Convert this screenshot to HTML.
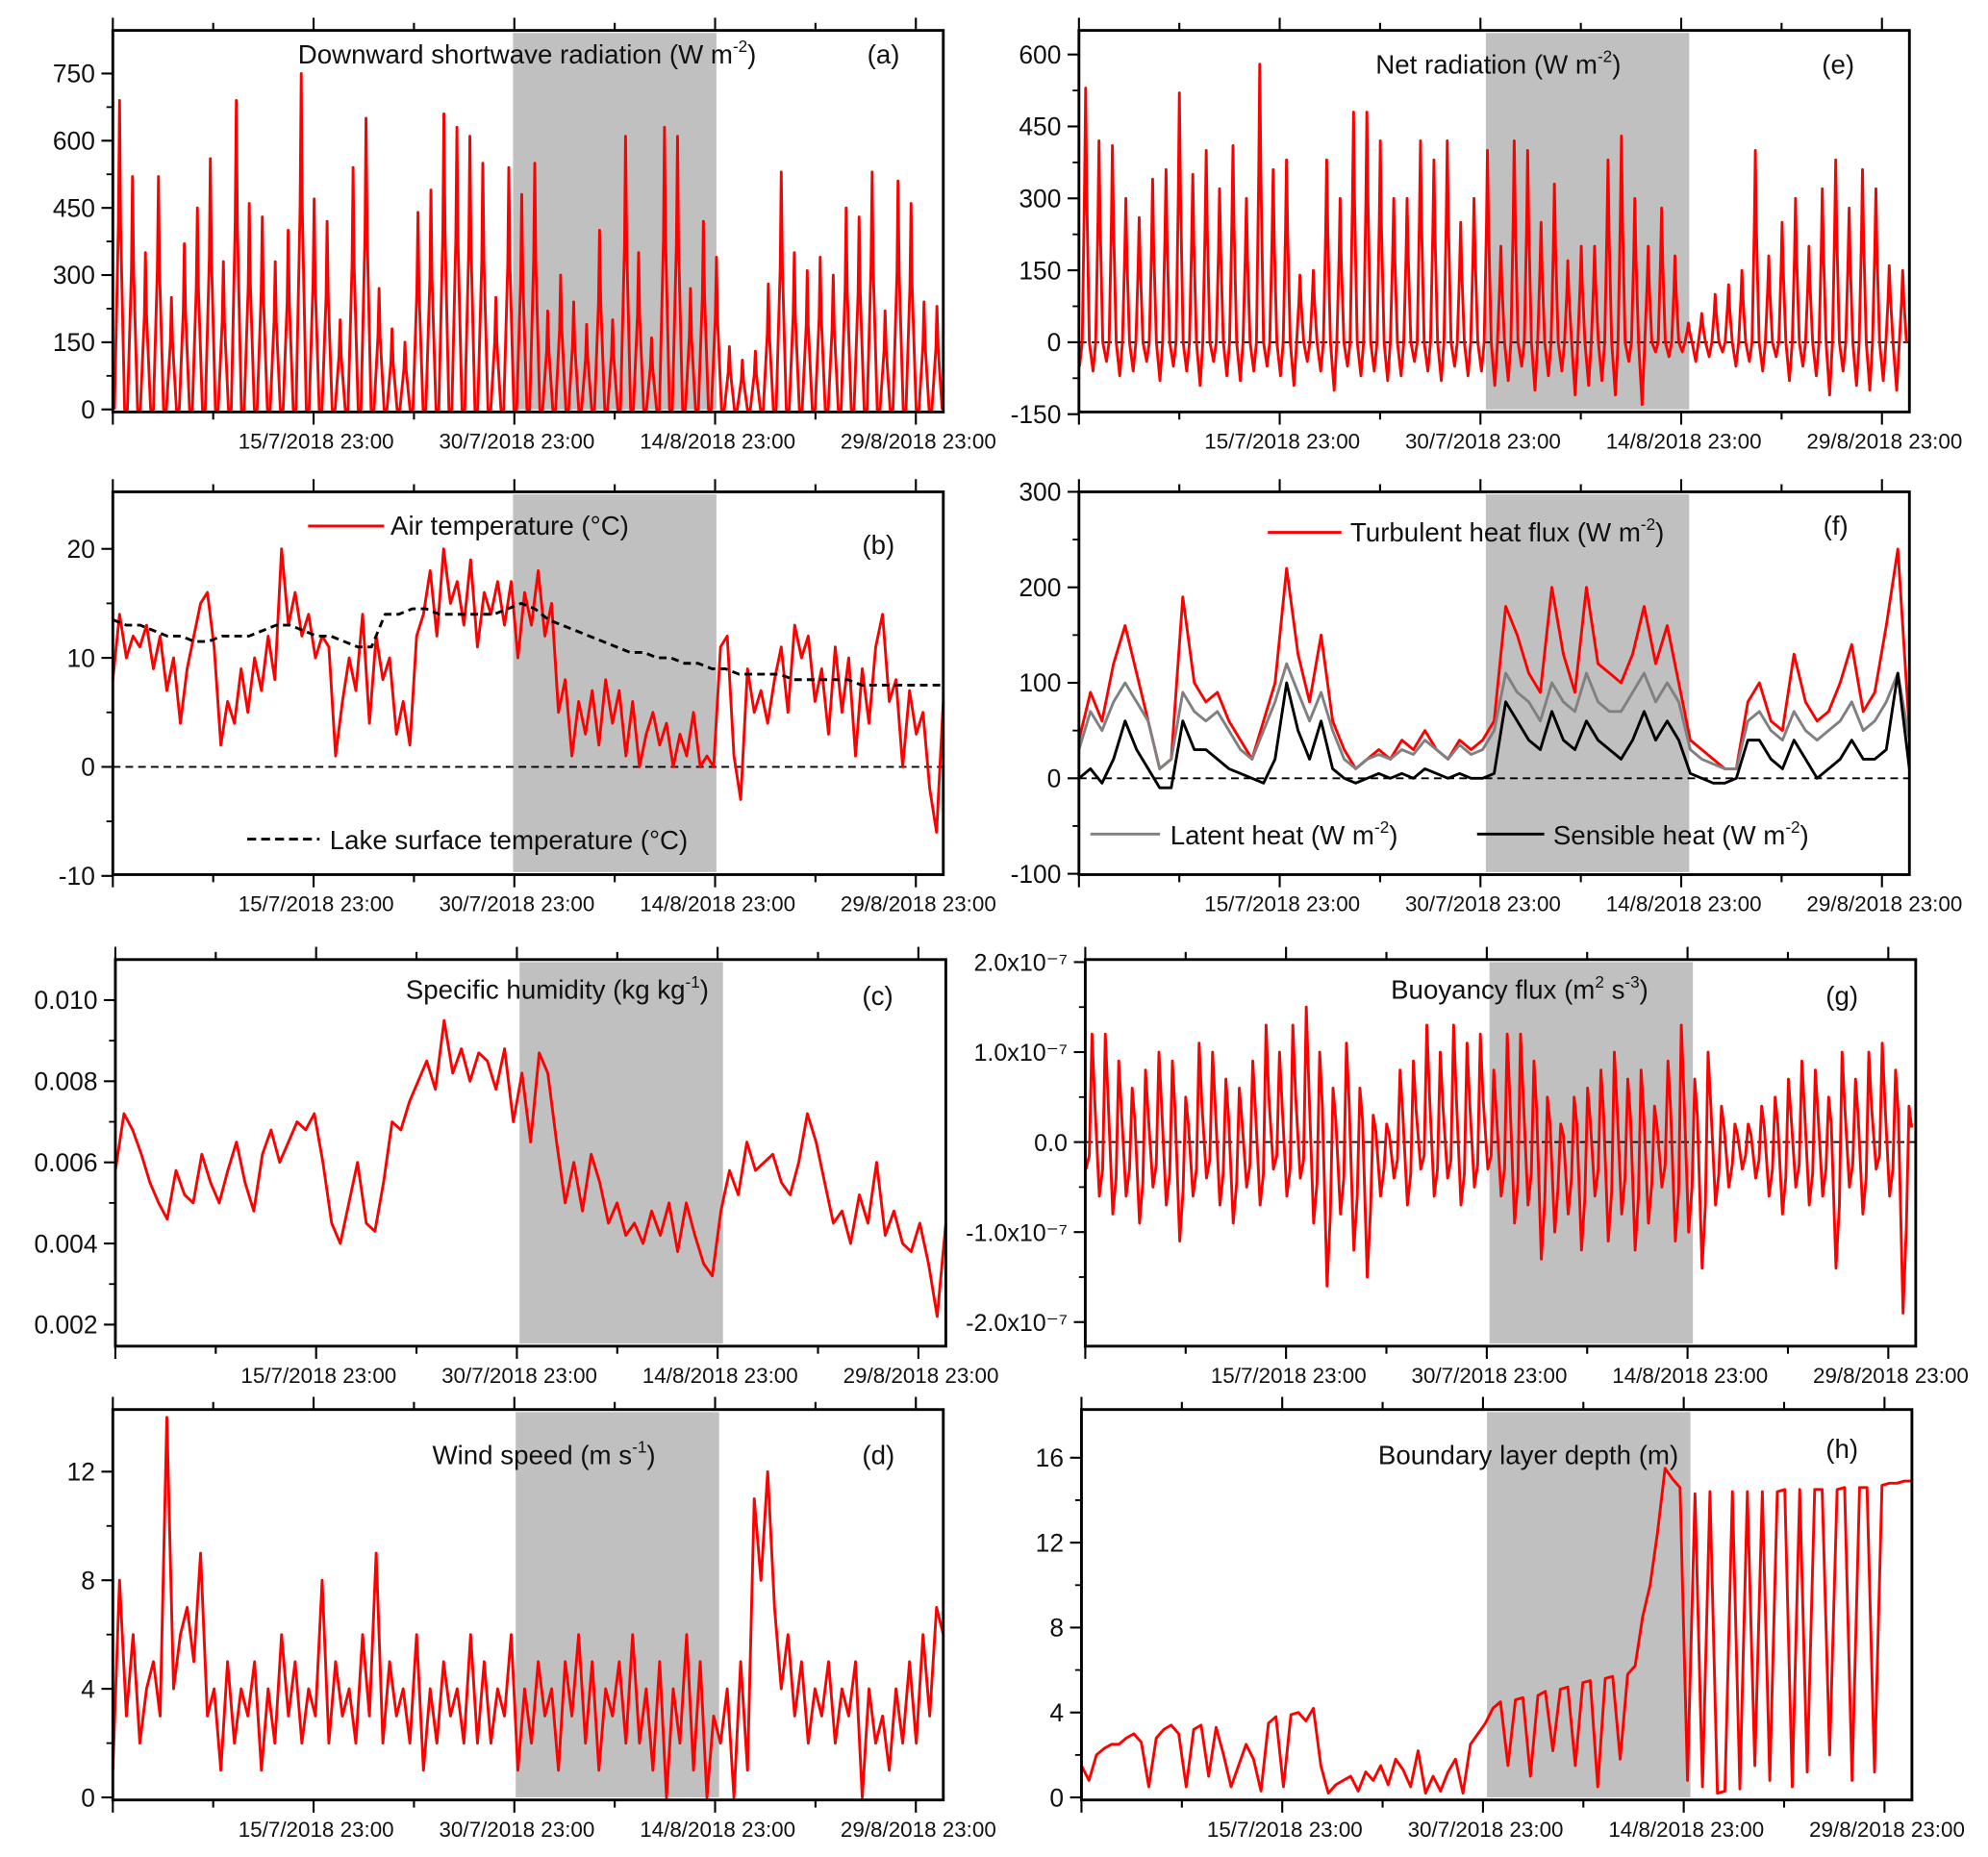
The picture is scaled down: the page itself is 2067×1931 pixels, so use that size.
<!DOCTYPE html>
<html><head><meta charset="utf-8"><style>
html,body{margin:0;padding:0;background:#fff;}
svg{display:block;}
text{font-family:"Liberation Sans",Arial,sans-serif;fill:#111;}
</style></head><body>
<svg id="chart" xmlns="http://www.w3.org/2000/svg" width="2067" height="1931" viewBox="0 0 1568 1465" preserveAspectRatio="none"></svg>
<script>
// ---- data ----
const xTickLabels = ["15/7/2018  23:00","30/7/2018  23:00","14/8/2018  23:00","29/8/2018  23:00"];
const xTickDays = [15,30,45,60];
const swPeaks = [690,520,350,520,250,370,450,560,330,690,460,430,330,400,750,470,420,200,540,650,270,180,150,440,490,660,630,610,550,250,540,480,550,220,300,240,190,400,200,610,350,160,630,610,270,420,340,140,110,130,280,530,350,310,340,300,450,430,530,220,510,460,240,230];
const netPeaks = [530,420,410,300,260,340,360,520,350,400,320,410,300,580,360,380,140,150,380,300,480,480,420,300,300,420,380,420,250,300,400,200,420,400,250,330,170,200,200,380,430,300,200,280,180,40,60,100,120,150,400,180,250,300,200,320,380,280,360,320,160,150];
const netMins = [-50,-60,-40,-70,-60,-40,-80,-50,-60,-90,-40,-70,-80,-60,-50,-70,-90,-40,-60,-100,-50,-70,-60,-80,-70,-40,-60,-80,-50,-70,-60,-90,-80,-50,-100,-70,-60,-110,-90,-80,-110,-40,-130,-20,-30,-20,-40,-30,-20,-50,-40,-60,-30,-80,-50,-70,-110,-60,-90,-100,-80,-100];
const airTemp = [8,14,10,12,11,13,9,12,7,10,4,9,12,15,16,11,2,6,4,9,5,10,7,12,8,20,13,16,12,14,10,12,11,1,6,10,7,14,4,12,8,10,3,6,2,12,14,18,12,20,15,17,13,19,11,16,14,17,13,17,10,16,13,18,12,15,5,8,1,6,3,7,2,8,4,7,1,6,0,3,5,2,4,0,3,1,5,0,1,0,11,12,1,-3,9,5,7,4,8,11,5,13,10,12,6,9,3,11,5,10,1,9,4,11,14,6,8,0,7,3,5,-2,-6,6];
const lakeTemp = [13.5,13,13,12.5,12,12,11.5,11.5,12,12,12,12.5,13,13,12.5,12,12,11.5,11,11,14,14,14.5,14.5,14,14,14,14,14,14.5,15,14.5,13.5,13,12.5,12,11.5,11,10.5,10.5,10,10,9.5,9.5,9,9,8.5,8.5,8.5,8.5,8,8,8,8,8,7.5,7.5,7.5,7.5,7.5,7.5,7.5];
const turbFlux = [40,90,60,120,160,110,60,10,20,190,100,80,90,60,40,20,60,100,220,130,80,150,60,30,10,20,30,20,40,30,50,30,20,40,30,40,60,180,150,110,90,200,130,90,200,120,110,100,130,180,120,160,100,40,30,20,10,10,80,100,60,50,130,80,60,70,100,140,70,90,160,240,50];
const latentFlux = [30,70,50,80,100,80,60,10,20,90,70,60,70,50,30,20,50,80,120,90,60,90,50,20,10,20,25,20,30,25,40,30,20,35,25,30,50,110,90,80,60,100,80,70,110,80,70,70,90,110,80,100,80,30,20,15,10,10,60,70,50,40,70,50,40,50,60,80,50,60,80,110,40];
const sensibleFlux = [0,10,-5,20,60,30,10,-10,-10,60,30,30,20,10,5,0,-5,20,100,50,20,60,10,0,-5,0,5,0,5,0,10,5,0,5,0,0,5,80,60,40,30,70,40,30,60,40,30,20,40,70,40,60,40,5,0,-5,-5,0,40,40,20,10,40,20,0,10,20,40,20,20,30,110,10];
const specHum = [0.0058,0.0072,0.0068,0.0062,0.0055,0.0050,0.0046,0.0058,0.0052,0.0050,0.0062,0.0055,0.0050,0.0058,0.0065,0.0055,0.0048,0.0062,0.0068,0.0060,0.0065,0.0070,0.0068,0.0072,0.0060,0.0045,0.0040,0.0050,0.0060,0.0045,0.0043,0.0055,0.0070,0.0068,0.0075,0.0080,0.0085,0.0078,0.0095,0.0082,0.0088,0.0080,0.0087,0.0085,0.0078,0.0088,0.0070,0.0082,0.0065,0.0087,0.0082,0.0065,0.0050,0.0060,0.0048,0.0062,0.0055,0.0045,0.0050,0.0042,0.0045,0.0040,0.0048,0.0042,0.0050,0.0038,0.0050,0.0042,0.0035,0.0032,0.0048,0.0058,0.0052,0.0065,0.0058,0.0060,0.0062,0.0055,0.0052,0.0060,0.0072,0.0065,0.0055,0.0045,0.0048,0.0040,0.0052,0.0045,0.0060,0.0042,0.0048,0.0040,0.0038,0.0045,0.0035,0.0022,0.0045];
const buoyMax = [1.2,1.2,0.9,0.6,0.8,1.0,0.9,0.5,1.1,1.0,0.7,0.6,0.9,1.3,1.0,1.3,1.5,1.0,0.6,1.1,0.6,0.3,0.2,0.8,0.9,1.3,1.0,1.3,1.1,1.2,0.8,1.2,1.2,0.9,0.5,0.2,0.5,0.6,0.8,1.0,0.7,0.8,0.4,0.9,1.3,0.7,1.0,0.4,0.2,0.2,0.4,0.5,0.7,0.9,0.8,0.5,1.0,0.7,1.0,1.1,0.8,0.4];
const buoyMin = [-0.3,-0.6,-0.8,-0.6,-0.9,-0.5,-0.7,-1.1,-0.6,-0.4,-0.7,-0.9,-0.5,-0.7,-0.3,-0.6,-0.4,-0.9,-1.6,-0.8,-1.2,-1.5,-0.6,-0.4,-0.7,-0.3,-0.6,-0.4,-0.7,-0.5,-0.3,-0.6,-0.9,-0.7,-1.3,-1.0,-0.8,-1.2,-0.6,-1.1,-0.8,-1.2,-0.9,-0.5,-1.1,-1.0,-1.4,-0.7,-0.5,-0.3,-0.4,-0.6,-0.8,-0.5,-0.7,-0.6,-1.4,-0.5,-0.8,-0.3,-0.6,-1.9];
const windSpeed = [1,8,3,6,2,4,5,3,14,4,6,7,5,9,3,4,1,5,2,4,3,5,1,4,2,6,3,5,2,4,3,8,2,5,3,4,2,6,3,9,2,5,3,4,2,6,1,4,2,5,3,4,2,6,2,5,2,4,3,6,1,4,2,5,3,4,1,5,3,6,2,5,1,4,3,5,2,6,2,4,1,5,0,4,2,6,1,5,0,3,2,4,0,5,1,11,8,12,7,4,6,3,5,2,4,3,5,2,4,3,5,0,4,2,3,1,4,2,5,2,6,3,7,6];
const blDepth = [1.5,0.8,2.0,2.3,2.5,2.5,2.8,3.0,2.6,0.5,2.8,3.2,3.4,3.0,0.5,3.2,3.4,1.0,3.3,2.0,0.5,1.5,2.5,1.8,0.3,3.5,3.8,0.5,3.9,4.0,3.6,4.2,1.5,0.2,0.6,0.8,1.0,0.3,1.2,0.8,1.5,0.6,1.8,1.3,0.5,2.2,0.2,1.0,0.3,1.2,1.8,0.2,2.5,3.0,3.5,4.2,4.5,1.5,4.6,4.7,1.0,4.8,5.0,2.2,5.1,5.2,1.5,5.4,5.5,0.5,5.6,5.7,1.8,5.8,6.2,8.5,10,12.5,15.5,15,14.6,0.8,14.3,0.5,14.4,0.2,0.3,14.4,0.4,14.4,1.5,14.4,0.8,14.4,14.5,0.5,14.5,1.2,14.5,14.5,2.0,14.5,14.6,0.8,14.6,14.6,1.2,14.7,14.8,14.8,14.9,14.9];

const svg = document.getElementById('chart');
const NS = "http://www.w3.org/2000/svg";
const SPAN = 62.05;
function mk(tag, attrs, parent){const e=document.createElementNS(NS,tag);for(const k in attrs)e.setAttribute(k,attrs[k]);(parent||svg).appendChild(e);return e;}

function panel(p){
  const g = mk('g',{});
  
  
  const xs = d => p.x0 + (d/SPAN)*(p.x1-p.x0);
  const ys = v => p.y0v + (v - p.v0)*(p.y1v - p.y0v)/(p.v1 - p.v0);
  p.xs = xs; p.ys = ys;
  const sh = mk('rect',{x:xs(p.shade[0]),y:p.top+2,width:xs(p.shade[1])-xs(p.shade[0]),height:p.bot-p.top-4,fill:'#c0c0c0'},g);
  
  
  p.g = g;
  return p;
}
function finish(p){
  const g=p.g, xs=p.xs, ys=p.ys;
  const fr = mk('rect',{x:p.x0,y:p.top,width:p.x1-p.x0,height:p.bot-p.top,fill:'none',stroke:'#000','stroke-width':2.2},g);
  
  
  for(let d=0; d<=SPAN; d+=7.5){
    const maj = Math.abs(d/15-Math.round(d/15))<1e-6;
    const L = maj?10:6;
    mk('line',{x1:xs(d),x2:xs(d),y1:p.bot,y2:p.bot+L,stroke:'#000','stroke-width':1.6},g);
    mk('line',{x1:xs(d),x2:xs(d),y1:p.top,y2:p.top-L,stroke:'#000','stroke-width':1.6},g);
  }
  xTickDays.forEach((d,i)=>{
    const t = mk('text',{x:xs(d)+2,y:p.bot+29,'text-anchor':'middle','font-size':17},g);
    t.textContent = xTickLabels[i];
    
    
  });
  p.yticks.forEach((v,i)=>{
    const y=ys(v);
    mk('line',{x1:p.x0-9,x2:p.x0,y1:y,y2:y,stroke:'#000','stroke-width':1.6},g);
    const t = mk('text',{x:p.x0-14,y:y+7,'text-anchor':'end','font-size':p.yfs||20},g);
    t.textContent = p.ylabels[i];
    
    
    if(i<p.yticks.length-1){const ym=ys((v+p.yticks[i+1])/2);mk('line',{x1:p.x0-5,x2:p.x0,y1:ym,y2:ym,stroke:'#000','stroke-width':1.4},g);}
  });
}
function line(p, pts, color, name, width, dash){
  const pl = mk('polyline',{points:pts.map(q=>p.xs(q[0]).toFixed(1)+','+p.ys(q[1]).toFixed(1)).join(' '),fill:'none',stroke:color,'stroke-width':width||2.2,'stroke-dasharray':dash||'none','stroke-linejoin':'round'},p.g);
  
  
}
function even(arr){return arr.map((v,i)=>[i*SPAN/(arr.length-1),v]);}
function zeroLine(p){const l=mk('line',{x1:p.x0,x2:p.x1,y1:p.ys(0),y2:p.ys(0),stroke:'#000','stroke-width':1.4,'stroke-dasharray':'6,4'},p.g);
  
  }
function label(p, x, y, html, size, name){
  const t = mk('text',{x:x,y:y,'font-size':size||21},p.g);
  t.innerHTML = html;
  
  
}
function legendLine(p,x1,x2,y,color,dash,name){const l=mk('line',{x1:x1,x2:x2,y1:y,y2:y,stroke:color,'stroke-width':2.2,'stroke-dasharray':dash||'none'},p.g);
  
  }
const sup = s => `<tspan dy="-9" font-size="13">${s}</tspan><tspan dy="9">`;

// (a)
let A = panel({id:'a',x0:89,x1:744,top:24,bot:325,v0:0,v1:750,y0v:323,y1v:58,shade:[29.9,45.1]});
let ap=[]; swPeaks.forEach((v,i)=>{const d=i*SPAN/swPeaks.length; ap.push([d+0.12,0],[d+0.42,v*0.6],[d+0.5,v],[d+0.58,v*0.6],[d+0.88,0]);});
line(A, ap.filter(q=>q[0]<=SPAN), '#f00', 'shortwave-series');
finish(Object.assign(A,{yticks:[0,150,300,450,600,750],ylabels:['0','150','300','450','600','750']}));
label(A,235,50,'Downward shortwave radiation (W m'+sup('-2')+')</tspan>',21,'title-shortwave');
label(A,684,50,'(a)',21,'panel-letter-a');

// (e)
let E = panel({id:'e',x0:851,x1:1506,top:24,bot:325,v0:0,v1:600,y0v:270,y1v:43,shade:[30.4,45.6]});
zeroLine(E);
let ep=[]; netPeaks.forEach((v,i)=>{const d=i*SPAN/netPeaks.length; ep.push([d+0.05,netMins[i]],[d+0.25,0],[d+0.42,v*0.6],[d+0.5,v],[d+0.58,v*0.6],[d+0.78,0]);});
line(E, ep.filter(q=>q[0]<=SPAN), '#f00', 'net-radiation-series');
finish(Object.assign(E,{yticks:[-150,0,150,300,450,600],ylabels:['-150','0','150','300','450','600']}));
label(E,1085,58,'Net radiation (W m'+sup('-2')+')</tspan>',21,'title-net-radiation');
label(E,1437,58,'(e)',21,'panel-letter-e');

// (b)
let B = panel({id:'b',x0:89,x1:744,top:388,bot:690,v0:0,v1:20,y0v:605,y1v:433,shade:[29.9,45.1]});
zeroLine(B);
line(B, even(airTemp), '#f00', 'air-temperature-series');
line(B, even(lakeTemp), '#000', 'lake-temperature-series', 2.2, '6,4');
finish(Object.assign(B,{yticks:[-10,0,10,20],ylabels:['-10','0','10','20']}));
legendLine(B,243,303,415,'#f00','', 'legend-air-line');
label(B,308,422,'Air temperature (°C)',21,'legend-air-temperature');
legendLine(B,195,252,662,'#000','7,4','legend-lake-line');
label(B,260,670,'Lake surface temperature (°C)',21,'legend-lake-temperature');
label(B,680,437,'(b)',21,'panel-letter-b');

// (f)
let F = panel({id:'f',x0:851,x1:1506,top:388,bot:690,v0:0,v1:300,y0v:614,y1v:388,shade:[30.4,45.6]});
zeroLine(F);
line(F, even(turbFlux), '#f00', 'turbulent-flux-series');
line(F, even(latentFlux), '#808080', 'latent-heat-series');
line(F, even(sensibleFlux), '#000', 'sensible-heat-series');
finish(Object.assign(F,{yticks:[-100,0,100,200,300],ylabels:['-100','0','100','200','300']}));
legendLine(F,1000,1058,420,'#f00','','legend-turbulent-line');
label(F,1065,427,'Turbulent heat flux (W m'+sup('-2')+')</tspan>',21,'legend-turbulent');
legendLine(F,860,915,658,'#808080','','legend-latent-line');
label(F,923,666,'Latent heat  (W m'+sup('-2')+')</tspan>',21,'legend-latent');
legendLine(F,1165,1218,658,'#000','','legend-sensible-line');
label(F,1225,666,'Sensible heat (W m'+sup('-2')+')</tspan>',21,'legend-sensible');
label(F,1438,422,'(f)',21,'panel-letter-f');

// (c)
let C = panel({id:'c',x0:91,x1:746,top:757,bot:1062,v0:0.002,v1:0.010,y0v:1045,y1v:789,shade:[30.2,45.4]});
line(C, even(specHum), '#f00', 'specific-humidity-series');
finish(Object.assign(C,{yticks:[0.002,0.004,0.006,0.008,0.010],ylabels:['0.002','0.004','0.006','0.008','0.010']}));
label(C,320,788,'Specific humidity (kg kg'+sup('-1')+')</tspan>',21,'title-specific-humidity');
label(C,680,793,'(c)',21,'panel-letter-c');

// (g)
let G = panel({id:'g',x0:856,x1:1511,top:757,bot:1062,v0:0,v1:2,y0v:901,y1v:759,shade:[30.2,45.4]});
zeroLine(G);
let gp=[]; buoyMax.forEach((v,i)=>{const d=i*SPAN/buoyMax.length; gp.push([d+0.05,buoyMin[i]],[d+0.3,buoyMin[i]*0.5],[d+0.5,v],[d+0.7,v*0.4]);});
line(G, gp.filter(q=>q[0]<=SPAN), '#f00', 'buoyancy-flux-series');
finish(Object.assign(G,{yfs:19,yticks:[-2,-1,0,1,2],ylabels:['-2.0x10⁻⁷','-1.0x10⁻⁷','0.0','1.0x10⁻⁷','2.0x10⁻⁷']}));
label(G,1097,788,'Buoyancy flux (m'+sup('2')+' s'+sup('-3')+')</tspan></tspan>',21,'title-buoyancy-flux');
label(G,1440,793,'(g)',21,'panel-letter-g');

// (d)
let D = panel({id:'d',x0:89,x1:744,top:1112,bot:1420,v0:0,v1:12,y0v:1418,y1v:1161,shade:[30.1,45.3]});
line(D, even(windSpeed), '#f00', 'wind-speed-series');
finish(Object.assign(D,{yticks:[0,4,8,12],ylabels:['0','4','8','12']}));
label(D,341,1155,'Wind speed (m s'+sup('-1')+')</tspan>',21,'title-wind-speed');
label(D,680,1155,'(d)',21,'panel-letter-d');

// (h)
let H = panel({id:'h',x0:853,x1:1508,top:1112,bot:1420,v0:0,v1:16,y0v:1418,y1v:1150,shade:[30.3,45.5]});
line(H, even(blDepth), '#f00', 'boundary-layer-depth-series');
finish(Object.assign(H,{yticks:[0,4,8,12,16],ylabels:['0','4','8','12','16']}));
label(H,1087,1155,'Boundary layer depth (m)',21,'title-boundary-layer');
label(H,1440,1150,'(h)',21,'panel-letter-h');
</script>
</body></html>
